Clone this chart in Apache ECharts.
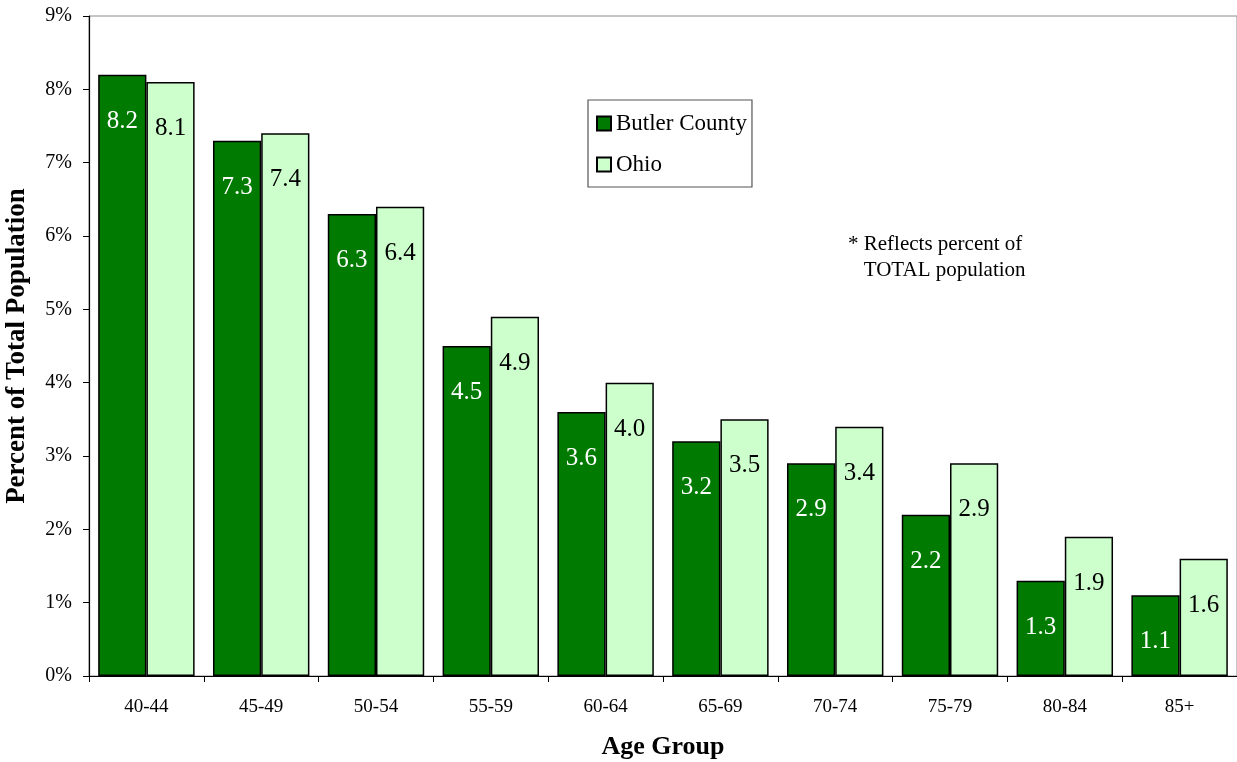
<!DOCTYPE html>
<html>
<head>
<meta charset="utf-8">
<script src="https://cdn.jsdelivr.net/npm/echarts@6/dist/echarts.min.js"></script>
<style>
  html, body { margin: 0; padding: 0; background: #fff; }
  #chart { width: 1237px; height: 762px; }
</style>
</head>
<body>
<div id="chart"></div>
<script>
// Age groups along the x axis
const ageGroups = ['40-44', '45-49', '50-54', '55-59', '60-64', '65-69', '70-74', '75-79', '80-84', '85+'];
// Share of total population (%) in each age group
const butlerCounty = [8.2, 7.3, 6.3, 4.5, 3.6, 3.2, 2.9, 2.2, 1.3, 1.1];
const ohio = [8.1, 7.4, 6.4, 4.9, 4.0, 3.5, 3.4, 2.9, 1.9, 1.6];
const seriesNames = ['Butler County', 'Ohio'];

const FONT = '"Liberation Serif", "Times New Roman", serif';

const chart = echarts.init(document.getElementById('chart'), null, { renderer: 'canvas' });

function barSeries(name, data, fill, labelColor) {
  return {
    name: name,
    type: 'bar',
    data: data,
    barGap: '0%',
    barCategoryGap: '16%',
    itemStyle: { color: fill, borderColor: '#000', borderWidth: 1.5 },
    label: {
      show: true,
      position: 'insideTop',
      distance: 34,
      color: labelColor,
      fontFamily: FONT,
      fontSize: 25,
      formatter: p => p.value.toFixed(1)
    },
    emphasis: { disabled: true }
  };
}

chart.setOption({
  animation: false,
  backgroundColor: '#fff',
  textStyle: { fontFamily: FONT },
  grid: {
    left: 89, right: 0, top: 16, bottom: 86,
    outerBoundsMode: 'none',
    containLabel: false,
    show: true, borderColor: '#8c8c8c', borderWidth: 1
  },
  legend: {
    orient: 'vertical',
    left: 588, top: 100,
    padding: [12, 5, 11, 8],
    itemGap: 18,
    itemWidth: 14, itemHeight: 14,
    icon: 'rect',
    backgroundColor: '#fff',
    borderColor: '#555', borderWidth: 1.2,
    textStyle: { fontFamily: FONT, fontSize: 23, color: '#000', lineHeight: 23 },
    data: seriesNames
  },
  xAxis: {
    type: 'category',
    data: ageGroups,
    name: 'Age Group',
    nameLocation: 'middle',
    nameGap: 58,
    nameTextStyle: { fontFamily: FONT, fontSize: 26, fontWeight: 'bold', color: '#000' },
    axisLine: { lineStyle: { color: '#000', width: 1.2 } },
    axisTick: { show: true, length: 6, lineStyle: { color: '#000' } },
    axisLabel: { margin: 22, fontFamily: FONT, fontSize: 19, color: '#000' }
  },
  yAxis: {
    type: 'value',
    min: 0, max: 9, interval: 1,
    name: 'Percent of Total Population',
    nameLocation: 'middle',
    nameGap: 58,
    nameTextStyle: { fontFamily: FONT, fontSize: 27, fontWeight: 'bold', color: '#000' },
    axisLine: { show: true, lineStyle: { color: '#000', width: 1.2 } },
    axisTick: { show: true, length: 6, lineStyle: { color: '#000' } },
    splitLine: { show: false },
    axisLabel: { margin: 17, fontFamily: FONT, fontSize: 20, color: '#000', formatter: v => v + '%' }
  },
  graphic: [
    {
      type: 'text',
      left: 848, top: 231,
      style: {
        text: '* Reflects percent of\n   TOTAL population',
        font: '21px ' + FONT,
        fill: '#000',
        lineHeight: 26
      }
    }
  ],
  series: [
    barSeries(seriesNames[0], butlerCounty, '#007a00', '#fff'),
    barSeries(seriesNames[1], ohio, '#ccffcc', '#000')
  ]
});
</script>
</body>
</html>
